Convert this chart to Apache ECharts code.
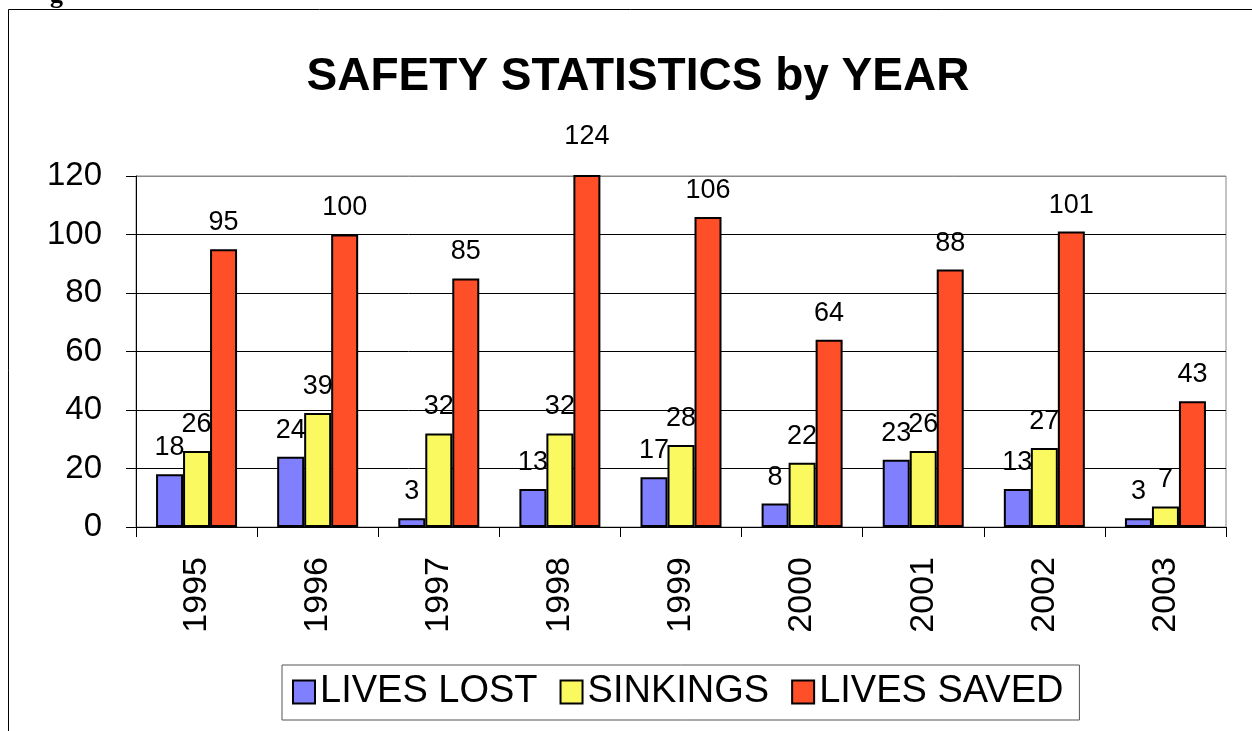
<!DOCTYPE html>
<html>
<head>
<meta charset="utf-8">
<script src="https://cdn.jsdelivr.net/npm/echarts@6/dist/echarts.min.js"></script>
<style>
html,body{margin:0;padding:0;background:#fff;}
#chart{width:1252px;height:731px;}
</style>
</head>
<body>
<div id="chart"></div>
<script>
const years = ['1995','1996','1997','1998','1999','2000','2001','2002','2003'];
const livesLost = [18, 24, 3, 13, 17, 8, 23, 13, 3];
const sinkings = [26, 39, 32, 32, 28, 22, 26, 27, 7];
const livesSaved = [95, 100, 85, 124, 106, 64, 88, 101, 43];
const seriesNames = ['LIVES LOST', 'SINKINGS', 'LIVES SAVED'];
const colors = ['#8080FF', '#FAFA60', '#FF4F28'];
const yTicks = { min: 0, max: 120, interval: 20 };

const gridTop = 176, gridBottom = 204, chartH = 731;
const pxPerUnit = (chartH - gridTop - gridBottom) / (yTicks.max - yTicks.min);
const baseDist = 13;

const chart = echarts.init(document.getElementById('chart'));
const font = 'Arial, "Liberation Sans", sans-serif';
function bar(name, data, color) {
  return {
    name: name, type: 'bar', barWidth: 27, barGap: '0%', clip: true,
    data: data.map(v => v > yTicks.max
      ? { value: v, label: { distance: baseDist + (v - yTicks.max) * pxPerUnit } }
      : v),
    itemStyle: { color: color, borderColor: '#000', borderWidth: 2 },
    label: { show: true, position: 'top', distance: baseDist, color: '#000', fontSize: 27, fontFamily: font }
  };
}
const splitColors = [];
for (let v = yTicks.min; v <= yTicks.max; v += yTicks.interval) splitColors.push(v === yTicks.max ? '#888' : '#000');

chart.setOption({
  animation: false,
  backgroundColor: '#fff',
  title: {
    text: 'SAFETY STATISTICS by YEAR', left: 633, top: 49, textAlign: 'center',
    textStyle: { fontSize: 46, fontWeight: 'bold', color: '#000', fontFamily: font }
  },
  graphic: [
    { type: 'rect', shape: { x: 8.5, y: 9.5, width: 1300, height: 800 }, style: { fill: null, stroke: '#000', lineWidth: 1 }, silent: true },
    { type: 'text', left: 50, top: -17, style: { text: 'g', font: 'bold 26px "Liberation Serif", serif', fill: '#000' } }
  ],
  legend: {
    data: seriesNames, left: 282, top: 665, orient: 'horizontal',
    itemWidth: 22, itemHeight: 23, itemGap: 22,
    padding: [8, 16, 9, 10],
    borderColor: '#555', borderWidth: 1,
    textStyle: { fontSize: 38, lineHeight: 38, color: '#000', fontFamily: font },
    icon: 'rect'
  },
  grid: { left: 136, right: 26, top: gridTop, bottom: gridBottom, show: true, borderColor: '#888', borderWidth: 1, backgroundColor: 'transparent' },
  xAxis: {
    type: 'category', data: years,
    axisLine: { lineStyle: { color: '#000', width: 1 } },
    axisTick: { show: true, length: 10, lineStyle: { color: '#000' }, alignWithLabel: false },
    axisLabel: { rotate: 90, margin: 30, fontSize: 34, color: '#000', fontFamily: font }
  },
  yAxis: {
    type: 'value', min: yTicks.min, max: yTicks.max, interval: yTicks.interval,
    axisLine: { show: true, lineStyle: { color: '#000', width: 1 } },
    axisTick: { show: true, length: 10, lineStyle: { color: '#000' } },
    splitLine: { lineStyle: { color: splitColors, width: 1 } },
    axisLabel: { margin: 34, fontSize: 33, color: '#000', fontFamily: font }
  },
  series: [
    bar(seriesNames[0], livesLost, colors[0]),
    bar(seriesNames[1], sinkings, colors[1]),
    bar(seriesNames[2], livesSaved, colors[2])
  ]
});
</script>
</body>
</html>
